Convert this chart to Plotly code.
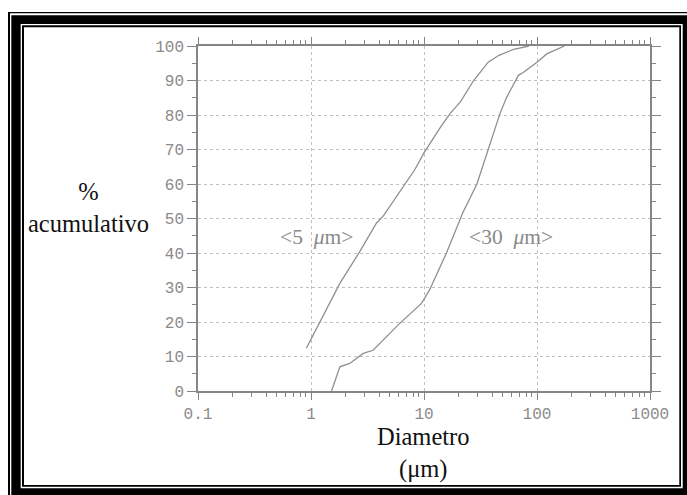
import plotly.graph_objects as go

# ---- data ----
d5_x = [0.91, 1.8, 2.7, 3.8, 4.34, 6.0, 8.3, 10, 14, 17, 21, 27.5, 37, 46, 62, 85]
d5_y = [12.4, 31.2, 40.4, 48.7, 50.6, 57.4, 64.2, 69.0, 76.5, 80.4, 83.8, 90, 95.3, 97.3, 99, 100]

d30_x = [1.52, 1.8, 2.2, 2.9, 3.54, 6.1, 9.5, 11.2, 15.8, 22, 29.4, 47, 54, 68.5, 76, 100, 122, 160, 175]
d30_y = [0, 7, 8, 10.9, 11.8, 19.6, 25.4, 29.3, 40, 51.6, 60, 80.4, 85.2, 91.5, 92.4, 95.3, 97.7, 99.4, 100]

x_tickvals = [0.1, 1, 10, 100, 1000]
x_ticktext = ["0.1", "1", "10", "100", "1000"]
x_minor = [m * 10 ** k for k in (-1, 0, 1, 2) for m in range(2, 10)]

label_5 = "&lt;5&nbsp;&nbsp;<i>μ</i>m&gt;"
label_30 = "&lt;30&nbsp;&nbsp;<i>μ</i>m&gt;"
y_title = "%<br>acumulativo"
x_title = "Diametro<br>(μm)"

W, H = 687, 495
L, R, T, B = 198, 650, 46, 391  # plot area in pixels
PW, PH = R - L, B - T


def px(x):
    return (x - L) / PW


def py(y):
    return (B - y) / PH


AX = "#858585"
GRID = "#c8bcc2"
CURVE = "#8f8f8f"

fig = go.Figure()
fig.add_trace(go.Scatter(x=d5_x, y=d5_y, mode="lines",
                         line=dict(color=CURVE, width=1.3), showlegend=False))
fig.add_trace(go.Scatter(x=d30_x, y=d30_y, mode="lines",
                         line=dict(color=CURVE, width=1.3), showlegend=False))

# frame (double border)
rects = [
    (8, 12, 700, 700, "black"),
    (10, 13.3, 700, 700, "white"),
    (11.3, 15.3, 700, 700, "black"),
    (20.7, 24, 682.7, 488.3, "white"),
    (22, 25.3, 681, 486.7, "black"),
    (24, 27.3, 679.3, 485, "white"),
]
for x0, y0, x1, y1, c in rects:
    fig.add_shape(type="rect", xref="paper", yref="paper",
                  x0=px(x0), x1=px(x1), y0=py(y0), y1=py(y1),
                  fillcolor=c, line=dict(width=0), layer="below")

tick_font = dict(family="Liberation Mono", size=16, color="#8a8a8a")

fig.update_xaxes(
    type="log", range=[-1, 3],
    showline=True, linecolor=AX, linewidth=1.5, mirror="ticks",
    ticks="outside", ticklen=7, tickwidth=1.3, tickcolor=AX,
    tickvals=x_tickvals, ticktext=x_ticktext, tickfont=tick_font,
    showgrid=True, gridcolor=GRID, griddash="dot", gridwidth=1,
    zeroline=False,
    minor=dict(tickvals=x_minor, ticks="outside", ticklen=4,
               tickcolor=AX, tickwidth=1, showgrid=False),
)
fig.update_yaxes(
    range=[0, 100], dtick=10, tick0=0,
    showline=True, linecolor=AX, linewidth=1.5, mirror="ticks",
    ticks="outside", ticklen=9, tickwidth=1.3, tickcolor=AX,
    tickfont=tick_font,
    showgrid=True, gridcolor=GRID, griddash="dot", gridwidth=1,
    zeroline=False,
    minor=dict(dtick=5, ticks="outside", ticklen=4,
               tickcolor=AX, tickwidth=1, showgrid=False),
)

title_font = dict(family="Liberation Serif", size=24.5, color="#111111")
ann_font = dict(family="Liberation Serif", size=21.5, color="#8a8a8a")

annotations = [
    dict(text=y_title, x=px(88), y=py(207), xref="paper", yref="paper",
         showarrow=False, font=title_font, xanchor="center", yanchor="middle",
         align="center"),
    dict(text=x_title, x=px(423), y=py(453), xref="paper", yref="paper",
         showarrow=False, font=title_font, xanchor="center", yanchor="middle",
         align="center", borderpad=0),
    dict(text=label_5, x=0.050, y=44.5, xref="x", yref="y",
         showarrow=False, font=ann_font, xanchor="center", yanchor="middle"),
    dict(text=label_30, x=1.774, y=44.5, xref="x", yref="y",
         showarrow=False, font=ann_font, xanchor="center", yanchor="middle"),
]

fig.update_layout(
    width=W, height=H,
    margin=dict(l=L, r=W - R, t=T, b=H - B, pad=0),
    paper_bgcolor="white", plot_bgcolor="rgba(0,0,0,0)",
    annotations=annotations,
    showlegend=False,
)

fig.write_html("out.html")
